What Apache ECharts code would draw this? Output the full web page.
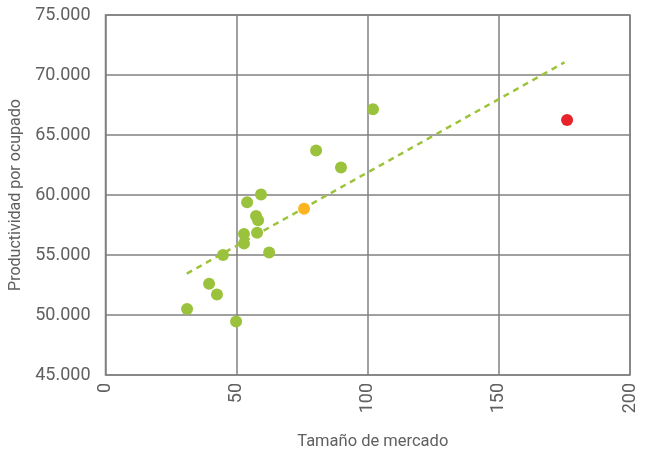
<!DOCTYPE html>
<html><head><meta charset="utf-8">
<script src="https://cdn.jsdelivr.net/npm/echarts@6/dist/echarts.min.js"></script>
<style>html,body{margin:0;padding:0;background:#fff}#c{width:649px;height:453px}</style>
</head><body><div id="c"></div>
<script>
// Market size (x) and productivity per employee (y)
const greenX = [31.1, 39.5, 42.5, 44.8, 49.8, 52.8, 52.8, 54.0, 57.4, 58.2, 57.8, 59.3, 62.4, 80.3, 89.8, 102.0];
const greenY = [50500, 52600, 51700, 55000, 49450, 56750, 55950, 59400, 58250, 57900, 56850, 60050, 55200, 63700, 62300, 67150];
const orangeX = [75.7];
const orangeY = [58850];
const redX = [176.0];
const redY = [66250];
const trendX = [31, 175];
const trendY = [53450, 71050];
const xTicks = [0, 50, 100, 150, 200];
const yTicks = [45000, 50000, 55000, 60000, 65000, 70000, 75000];

const zip = (a, b) => a.map((v, i) => [v, b[i]]);
const font = 'Roboto, sans-serif';
const grey = '#606060';
const gridCol = '#808080';

const chart = echarts.init(document.getElementById('c'));
chart.setOption({
  animation: false,
  grid: {left: 105.5, right: 19, top: 15, bottom: 78, show: true, borderColor: gridCol, borderWidth: 1.5,
         containLabel: false, outerBoundsMode: 'none'},
  xAxis: {
    type: 'value', min: xTicks[0], max: xTicks[xTicks.length - 1], interval: 50,
    name: 'Tamaño de mercado', nameLocation: 'middle', nameGap: 58,
    nameTextStyle: {color: grey, fontSize: 16.5, fontFamily: font, padding: [0, 0, 0, 10]},
    axisLine: {show: false}, axisTick: {show: false},
    axisLabel: {rotate: 90, color: grey, fontSize: 18, fontFamily: font, margin: 8},
    splitLine: {lineStyle: {color: gridCol, width: 1.5}}
  },
  yAxis: {
    type: 'value', min: yTicks[0], max: yTicks[yTicks.length - 1], interval: 5000,
    name: 'Productividad por ocupado', nameLocation: 'middle', nameGap: 80,
    nameTextStyle: {color: grey, fontSize: 16, fontFamily: font},
    axisLine: {show: false}, axisTick: {show: false},
    axisLabel: {color: grey, fontSize: 18, fontFamily: font, margin: 15,
      formatter: v => (v / 1000).toFixed(3)},
    splitLine: {lineStyle: {color: gridCol, width: 1.5}}
  },
  series: [
    {type: 'line', data: zip(trendX, trendY), symbol: 'none', silent: true,
     lineStyle: {color: '#9dc33b', width: 2.5, type: [6, 5]}, z: 1},
    {type: 'scatter', data: zip(greenX, greenY), symbolSize: 12,
     itemStyle: {color: '#9bc23c', opacity: 1}, z: 2},
    {type: 'scatter', data: zip(orangeX, orangeY), symbolSize: 12,
     itemStyle: {color: '#fbb522', opacity: 1}, z: 2},
    {type: 'scatter', data: zip(redX, redY), symbolSize: 12,
     itemStyle: {color: '#e8232a', opacity: 1}, z: 2}
  ]
});
</script></body></html>
